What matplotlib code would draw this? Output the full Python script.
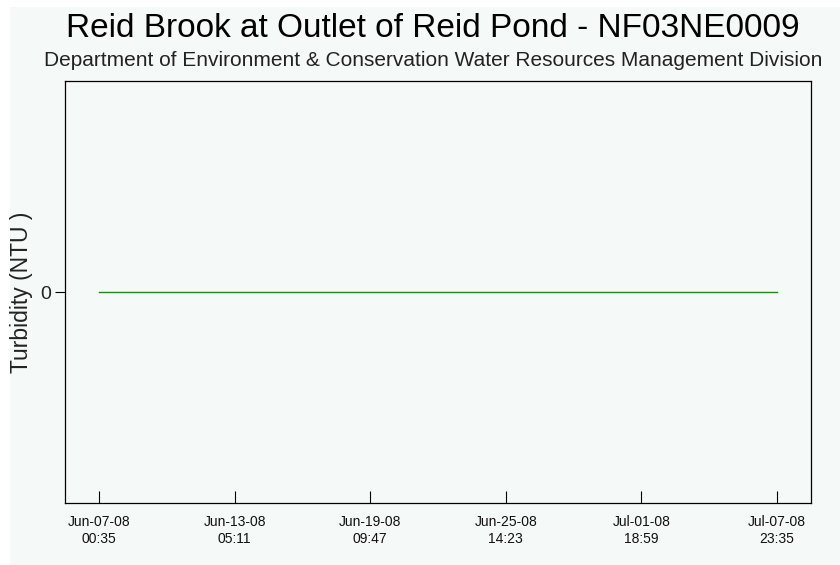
import matplotlib
matplotlib.use('Agg')
import matplotlib.pyplot as plt
import matplotlib.dates as mdates
from matplotlib.patches import Rectangle
import pandas as pd

############ data ############
obs_times = ['2008-06-07 00:35', '2008-07-07 23:35']
turbidity = [0, 0]

tick_times = ['2008-06-07 00:35', '2008-06-13 05:11', '2008-06-19 09:47',
              '2008-06-25 14:23', '2008-07-01 18:59', '2008-07-07 23:35']

title = 'Reid Brook at Outlet of Reid Pond - NF03NE0009'
subtitle = 'Department of Environment & Conservation Water Resources Management Division'
ylabel = 'Turbidity (NTU )'

bg = '#f5f9f7'
plt.rcParams['font.family'] = ['Liberation Sans', 'DejaVu Sans']

W, H = 840, 565
fig = plt.figure(figsize=(W / 100, H / 100), dpi=100, facecolor='white')
# light panel behind everything, leaves a thin white strip left and top
fig.patches.append(Rectangle((10 / W, 0), 1 - 10 / W, 1 - 7 / H,
                             transform=fig.transFigure, facecolor=bg,
                             edgecolor='none', zorder=-10))

ax = fig.add_axes([65 / W, 1 - 503 / H, (811 - 65) / W, (503 - 81) / H])
ax.set_facecolor(bg)

t = pd.to_datetime(obs_times)
ax.plot(t, turbidity, color='#238423', linewidth=1.0)
ax.margins(x=0.05)
ax.set_ylim(-1, 1)

ax.set_xticks(pd.to_datetime(tick_times))
ax.xaxis.set_major_formatter(mdates.DateFormatter('%b-%d-%y\n%H:%M'))
ax.set_yticks([0])

ax.tick_params(axis='x', direction='in', length=8.6, width=0.8,
               labelsize=10, pad=8.5, labelcolor='#111111')
ax.tick_params(axis='y', direction='out', length=7, width=0.8,
               labelsize=14, pad=3, labelcolor='#222222')
for lab in ax.get_xticklabels():
    lab.set_linespacing(1.25)
for s in ax.spines.values():
    s.set_linewidth(0.9)
    s.set_color('black')

ax.set_ylabel(ylabel, fontsize=16.5, color='#222222')
ax.yaxis.set_label_coords(-0.043, 0.5)

fig.text(433 / W, 1 - 37 / H, title, fontsize=24, ha='center', va='baseline')
fig.text(433 / W, 1 - 66 / H, subtitle, fontsize=15, ha='center', va='baseline',
         color='#222222')

plt.savefig('out.png', dpi=100, facecolor=fig.get_facecolor())
